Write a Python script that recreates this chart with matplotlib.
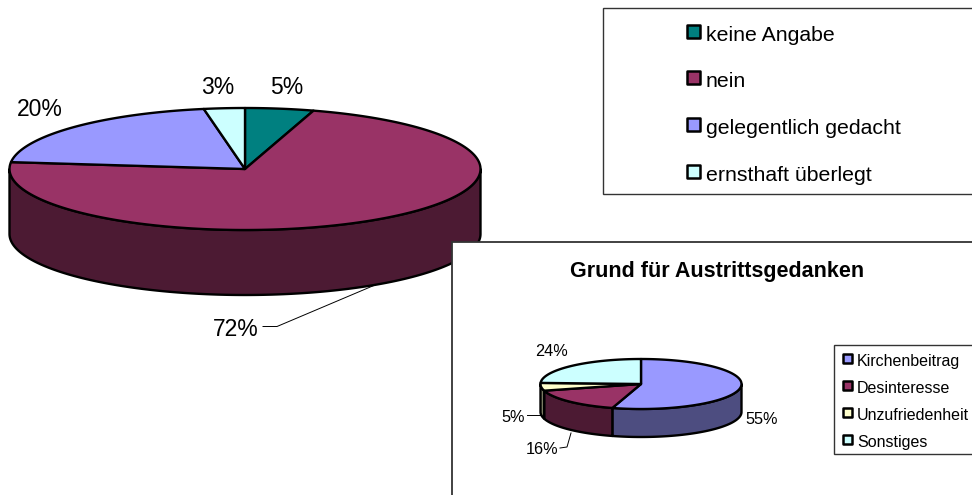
import matplotlib
matplotlib.use("Agg")
import matplotlib.pyplot as plt
import numpy as np
from matplotlib.patches import Polygon, Rectangle

plt.rcParams['font.family'] = ['Liberation Sans', 'DejaVu Sans']

# main pie
main_names = ["keine Angabe", "nein", "gelegentlich gedacht", "ernsthaft überlegt"]
main_values = [4.7, 72.1, 20.4, 2.8]
main_labels = ["5%", "72%", "20%", "3%"]
main_colors = ["#008080", "#993366", "#9999FF", "#CCFFFF"]
main_dark = ["#004040", "#4C1A33", "#4D4D80", "#668080"]

# small pie
sub_title = "Grund für Austrittsgedanken"
sub_names = ["Kirchenbeitrag", "Desinteresse", "Unzufriedenheit", "Sonstiges"]
sub_values = [54.6, 16.1, 5.0, 24.3]
sub_labels = ["55%", "16%", "5%", "24%"]
sub_colors = ["#9999FF", "#993366", "#FFFFCC", "#CCFFFF"]
sub_dark = ["#4D4D80", "#4C1A33", "#808066", "#668080"]


def arc(cx, cy, rx, ry, t0, t1):
    # angles clockwise from the top, in degrees
    t = np.radians(np.linspace(t0, t1, 200))
    return np.column_stack([cx + rx * np.sin(t), cy - ry * np.cos(t)])


def pie3d(ax, values, colors, dark, cx, cy, rx, ry, depth, lw):
    edges = np.cumsum([0] + list(values)) / sum(values) * 360
    # side wall, only the front half shows
    for i in range(len(values)):
        t0 = max(edges[i], 90)
        t1 = min(edges[i + 1], 270)
        if t1 <= t0:
            continue
        top = arc(cx, cy, rx, ry, t0, t1)
        bottom = arc(cx, cy + depth, rx, ry, t1, t0)
        ax.add_patch(Polygon(np.vstack([top, bottom]), closed=True, fc=dark[i],
                             ec="black", lw=lw, joinstyle="round"))
    # top face
    for i in range(len(values)):
        pts = np.vstack([[[cx, cy]], arc(cx, cy, rx, ry, edges[i], edges[i + 1])])
        ax.add_patch(Polygon(pts, closed=True, fc=colors[i], ec="black", lw=lw,
                             joinstyle="round"))


def legend(ax, names, colors, x, ys, size, fs, gap, dy):
    for name, col, y in zip(names, colors, ys):
        ax.add_patch(Rectangle((x, y - size / 2), size, size, fc=col, ec="black", lw=1.8,
                               joinstyle="round"))
        ax.text(x + size + gap, y + dy, name, fontsize=fs, va="center", ha="left", color="black")


fig = plt.figure(figsize=(9.72, 4.95), dpi=100)
ax = fig.add_axes([0, 0, 1, 1])
ax.set_xlim(0, 972)
ax.set_ylim(495, 0)
ax.axis("off")

pie3d(ax, main_values, main_colors, main_dark, 245, 169, 235.5, 61, 65, 1.7)
ax.plot([263, 277, 375], [326.5, 326.5, 285], color="black", lw=0.7)

fs = 16.5
ax.text(287, 88, main_labels[0], fontsize=fs, ha="center", va="center")
ax.text(236, 329, main_labels[1], fontsize=fs, ha="center", va="center")
ax.text(40, 109, main_labels[2], fontsize=fs, ha="center", va="center")
ax.text(218, 88, main_labels[3], fontsize=fs, ha="center", va="center")

# upper legend box
ax.add_patch(Rectangle((602.5, 8), 400, 186, fc="white", ec="#333333", lw=1))
legend(ax, main_names, main_colors, 687, [31, 77, 124, 171], 13, 15.3, 6, 4.5)

# inset chart, lies over the big pie
ax.add_patch(Rectangle((452, 242), 560, 300, fc="white", ec="#333333", lw=1.3))
ax.text(717, 271, sub_title, fontsize=15.5, fontweight="bold", ha="center", va="center")

pie3d(ax, sub_values, sub_colors, sub_dark, 641, 384, 100.5, 25, 28, 1.7)
ax.plot([527, 541], [415, 415], color="black", lw=0.7)
ax.plot([560, 567, 571], [448, 447, 433], color="black", lw=0.7)

fs2 = 11.7
ax.text(762, 419, sub_labels[0], fontsize=fs2, ha="center", va="center")
ax.text(542, 449, sub_labels[1], fontsize=fs2, ha="center", va="center")
ax.text(513, 417, sub_labels[2], fontsize=fs2, ha="center", va="center")
ax.text(551, 351, sub_labels[3], fontsize=fs2, ha="center", va="center")

ax.add_patch(Rectangle((833.5, 344.5), 200, 109.5, fc="white", ec="#333333", lw=1))
legend(ax, sub_names, sub_colors, 843, [358, 385, 412, 439], 9, 11.5, 5, 3.5)

fig.savefig("out.png", dpi=100)
